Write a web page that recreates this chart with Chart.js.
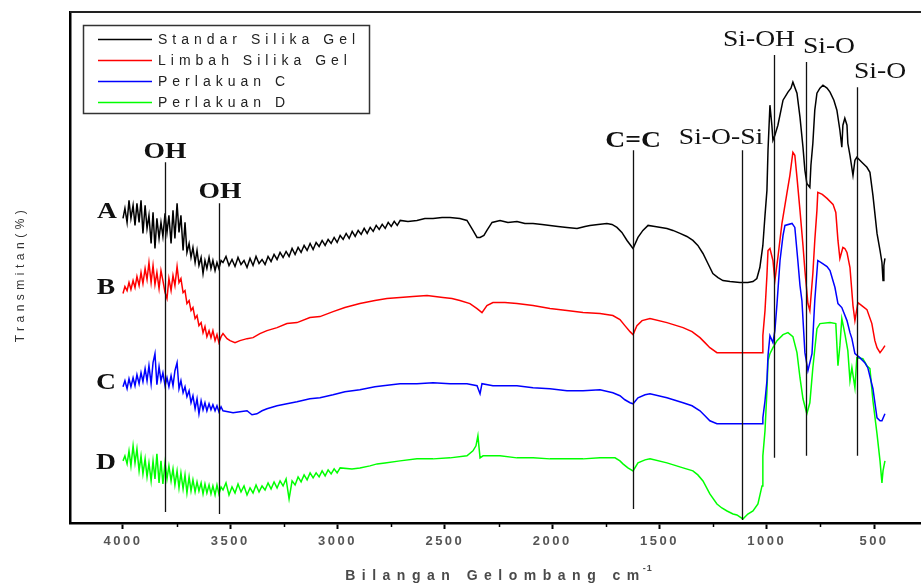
<!DOCTYPE html>
<html>
<head>
<meta charset="utf-8">
<script src="https://cdn.jsdelivr.net/npm/chart.js@4.4.0/dist/chart.umd.min.js"></script>
<style>
  html, body { margin: 0; padding: 0; background: #fff; }
  #wrap { width: 921px; height: 585px; }
</style>
</head>
<body>
<div id="wrap"><canvas id="chart" width="921" height="585"></canvas></div>
<script>
// Spektrum FTIR, kurva digeser vertikal (transmitan relatif)
var seriesNames = ["Standar Silika Gel", "Limbah Silika Gel", "Perlakuan C", "Perlakuan D"];
var seriesColors = ["#000000", "#ff0000", "#0000ff", "#00ff00"];
var xTicks = [4000, 3500, 3000, 2500, 2000, 1500, 1000, 500];
var xMinorTicks = [3750, 3250, 2750, 2250, 1750, 1250, 750];

// bilangan gelombang daerah OH (4000-3540), dipakai keempat kurva
var wnOH = [4000,3991,3981,3972,3963,3953,3944,3935,3925,3916,3907,3897,3888,3879,3869,3860,3851,3842,3832,3823,
  3814,3804,3795,3786,3776,3767,3758,3748,3739,3730,3720,3711,3702,3692,3683,3674,3664,3655,3646,3636,
  3627,3618,3609,3599,3590,3581,3571,3562,3553,3543];

// A - Standar Silika Gel
var wnA = [3534,3520,3506,3492,3478,3464,3450,3436,3422,3408,3394,3380,3366,3352,3338,3324,3310,3296,3282,3268,
  3254,3240,3226,3212,3198,3184,3170,3156,3142,3128,3114,3100,3086,3072,3058,3044,3030,3016,3002,2988,
  2974,2960,2946,2932,2918,2904,2890,2876,2862,2848,2834,2820,2806,2792,2778,2764,2750,2736,2722,2708,
  2672,2630,2593,2555,2513,2476,2430,2397,2369,2350,2336,2318,2304,2280,2243,2206,2164,2127,2089,2047,
  2010,1973,1931,1884,1847,1824,1786,1745,1721,1698,1675,1651,1623,1600,1577,1553,1521,1465,1437,1404,
  1372,1344,1321,1297,1274,1251,1227,1204,1171,1125,1088,1064,1046,1032,1018,1008,999,994,985,976,
  971,962,948,924,901,887,878,859,845,831,822,813,799,794,785,776,766,752,738,719,
  705,687,673,659,650,645,636,626,622,612,598,589,580,566,552,533,519,505,486,472,
  463,458,454,449];
var trAoh = [304,314,300,322,304,317,297,319,300,322,289,317,294,307,279,310,274,304,284,300,
  286,309,290,307,279,312,284,319,290,307,272,300,270,279,265,275,260,272,257,265,
  249,262,254,265,254,262,252,260,254,262];
var trA = [260,266,257,263,256,265,258,262,255,264,257,266,259,263,258,266,261,268,263,270,
  265,271,266,274,268,275,270,277,272,279,273,280,276,282,277,283,279,285,280,287,
  283,289,284,291,286,292,288,294,289,295,291,297,293,298,294,300,296,301,297,302,
  301,302,304,304,305,305,304,302,292,285,285,287,292,300,302,300,301,299,299,298,
  297,296,295,294,296,297,298,299,298,295,290,282,274,285,292,297,296,294,292,289,
  286,282,277,269,259,249,245,242,241,240,240,241,244,255,277,307,332,372,417,397,
  382,387,397,422,430,434,440,429,405,375,352,339,335,357,379,412,429,434,437,434,
  430,422,412,392,375,397,404,397,379,367,347,362,365,362,359,355,350,327,289,272,
  260,242,257,264];

// B - Limbah Silika Gel
var wnB = [3534,3515,3501,3478,3455,3422,3394,3362,3329,3282,3236,3189,3129,3082,3021,2966,2896,2826,2770,2709,
  2649,2583,2546,2509,2467,2430,2383,2350,2327,2304,2276,2220,2164,2089,2010,1931,1856,1777,1717,1684,
  1661,1637,1623,1605,1581,1544,1465,1390,1348,1311,1288,1265,1232,1157,1078,1022,1018,1008,999,994,
  985,971,962,948,929,906,892,878,869,859,845,831,822,808,799,785,776,766,762,741,
  719,691,678,668,659,645,636,626,612,598,589,575,557,533,510,496,486,472,458,449];
var trBoh = [229,236,232,240,233,242,235,246,237,250,239,254,243,260,240,257,238,250,234,252,
  242,230,224,244,232,247,237,256,240,244,230,232,219,222,212,215,204,207,197,200,
  190,196,186,192,185,192,182,188,180,186];
var trB = [189,184,182,180,182,184,185,189,192,195,199,200,205,206,211,215,219,222,224,225,
  226,227,226,225,224,222,219,214,210,217,220,220,219,217,214,212,210,209,207,203,
  197,191,188,197,202,204,200,195,191,185,180,175,170,170,170,170,187,212,247,272,
  274,262,242,265,299,329,347,370,367,345,312,277,252,219,212,249,282,312,330,328,
  324,318,310,282,264,275,274,270,255,217,202,220,217,213,199,182,175,170,174,177];

// C - Perlakuan C
var wnC = [3534,3511,3487,3455,3422,3399,3376,3352,3329,3282,3236,3189,3129,3082,3021,2966,2896,2826,2788,2709,
  2630,2555,2476,2397,2350,2336,2327,2276,2220,2164,2089,2010,1931,1856,1777,1717,1684,1661,1637,1623,
  1600,1567,1544,1465,1390,1348,1311,1288,1265,1232,1157,1078,1022,1018,1008,999,994,985,971,962,
  952,938,924,915,882,869,855,845,836,822,808,799,789,776,762,741,719,705,682,668,
  650,626,612,603,589,566,543,529,505,486,472,463,449];
var trCoh = [136,142,134,144,136,145,137,148,139,150,141,154,142,157,139,160,169,138,156,142,
  150,137,145,136,147,137,152,160,134,142,130,136,126,132,120,127,114,124,109,122,
  113,120,112,119,113,118,112,117,111,116];
var trC = [112,111,110,111,112,108,109,112,114,117,119,121,124,125,128,131,133,136,137,139,
  139,140,139,139,137,129,139,137,137,137,135,134,132,132,133,130,127,123,120,119,
  125,128,129,125,120,117,112,107,102,99,99,99,99,105,122,142,167,187,180,192,
  219,262,287,297,299,295,262,237,222,170,152,160,169,222,262,259,256,252,235,219,
  215,202,190,184,169,165,160,155,134,105,102,102,109];

// D - Perlakuan D
var wnD = [3534,3520,3506,3492,3478,3464,3450,3436,3422,3408,3394,3380,3366,3352,3338,3324,3310,3296,3282,3268,
  3254,3240,3226,3212,3198,3184,3170,3156,3142,3128,3114,3100,3086,3072,3058,3044,3030,3016,3002,2988,
  2933,2896,2849,2816,2779,2709,2630,2555,2476,2397,2369,2355,2346,2336,2322,2243,2164,2089,2010,1931,
  1856,1777,1707,1684,1670,1647,1623,1600,1567,1544,1465,1390,1344,1321,1297,1265,1232,1209,1185,1157,
  1139,1111,1088,1064,1041,1022,1018,1008,999,994,985,971,952,924,901,878,859,845,831,813,
  799,785,766,752,705,678,668,659,650,636,622,612,603,589,580,552,533,519,505,486,
  472,463,458,449];
var trDoh = [62,67,59,72,57,77,60,74,52,67,49,64,46,60,42,62,44,69,40,62,
  39,60,44,57,42,54,38,52,35,50,34,48,30,46,32,43,31,41,32,40,
  29,39,30,38,29,37,28,38,29,36];
var trD = [33,40,28,36,30,39,31,37,28,35,30,38,31,37,33,40,34,41,35,42,
  37,44,24,42,38,46,41,48,43,50,45,50,46,52,47,53,49,54,50,55,
  54,55,57,59,60,62,64,64,65,67,72,77,87,65,67,67,65,65,64,64,
  64,65,65,62,59,55,52,60,63,64,60,55,52,48,42,29,19,15,12,9,
  8,4,9,12,19,37,67,92,132,162,169,175,182,188,190,186,170,145,124,109,
  120,155,194,199,200,199,157,177,204,189,172,142,155,135,165,164,157,154,122,89,
  62,40,52,62];

// garis penanda gugus fungsi (bilangan gelombang, rentang y)
var peakLines = [
  { wn: 3804, y0: 11, y1: 360 },
  { wn: 3553, y0: 9, y1: 319 },
  { wn: 1623, y0: 14, y1: 372 },
  { wn: 1117, y0: 3, y1: 372 },
  { wn: 967, y0: 65, y1: 467 },
  { wn: 817, y0: 67, y1: 460 },
  { wn: 580, y0: 67, y1: 435 }
];
var peakLabels = [
  { text: "A", wn: 4075, y: 311, bold: true },
  { text: "B", wn: 4079, y: 235, bold: true },
  { text: "C", wn: 4079, y: 140, bold: true },
  { text: "D", wn: 4079, y: 60, bold: true },
  { text: "OH", wn: 3804, y: 370, bold: true },
  { text: "OH", wn: 3548, y: 331, bold: true },
  { text: "C=C", wn: 1623, y: 381, bold: true },
  { text: "Si-O-Si", wn: 1213, y: 385, bold: false },
  { text: "Si-OH", wn: 1036, y: 482, bold: false },
  { text: "Si-O", wn: 710, y: 475, bold: false },
  { text: "Si-O", wn: 472, y: 450, bold: false }
];

function toPoints(wn, tr) {
  return wn.map(function (w, i) { return { x: w, y: tr[i] }; });
}

var annotasiPlugin = {
  id: "annotasi",
  beforeDraw: function (chart) {
    chart.ctx.letterSpacing = "2.5px"; // huruf label sumbu direnggangkan
  },
  afterDraw: function (chart) {
    var ctx = chart.ctx;
    var xs = chart.scales.x;
    var ys = chart.scales.y;
    var area = chart.chartArea;
    ctx.save();
    ctx.letterSpacing = "0px";

    // tick minor
    ctx.strokeStyle = "#000";
    ctx.lineWidth = 1.5;
    xMinorTicks.forEach(function (v) {
      var px = Math.round(xs.getPixelForValue(v)) + 0.5;
      ctx.beginPath();
      ctx.moveTo(px, area.bottom);
      ctx.lineTo(px, area.bottom + 4);
      ctx.stroke();
    });

    // bingkai atas
    ctx.strokeStyle = "#222";
    ctx.lineWidth = 2;
    ctx.beginPath();
    ctx.moveTo(area.left, area.top);
    ctx.lineTo(area.right, area.top);
    ctx.stroke();

    // garis penanda
    ctx.strokeStyle = "#111";
    ctx.lineWidth = 1.3;
    peakLines.forEach(function (p) {
      var px = Math.round(xs.getPixelForValue(p.wn)) + 0.5;
      ctx.beginPath();
      ctx.moveTo(px, ys.getPixelForValue(p.y0));
      ctx.lineTo(px, ys.getPixelForValue(p.y1));
      ctx.stroke();
    });

    // label huruf serif
    ctx.fillStyle = "#111";
    ctx.textAlign = "center";
    ctx.textBaseline = "middle";
    peakLabels.forEach(function (l) {
      ctx.save();
      ctx.font = (l.bold ? "bold " : "") + "24px 'Liberation Serif'";
      ctx.translate(xs.getPixelForValue(l.wn), ys.getPixelForValue(l.y));
      ctx.scale(1.15, 1);
      ctx.fillText(l.text, 0, 0);
      ctx.restore();
    });

    // legenda
    ctx.strokeStyle = "#333";
    ctx.lineWidth = 1.5;
    ctx.strokeRect(83.5, 25.5, 286, 88);
    ctx.textAlign = "left";
    ctx.font = "14px 'Liberation Sans'";
    ctx.letterSpacing = "5px";
    var rows = [39, 60, 81, 102];
    chart.data.datasets.forEach(function (ds, i) {
      ctx.strokeStyle = ds.borderColor;
      ctx.lineWidth = 1.5;
      ctx.beginPath();
      ctx.moveTo(98, rows[i] + 0.5);
      ctx.lineTo(152, rows[i] + 0.5);
      ctx.stroke();
      ctx.fillStyle = "#222";
      ctx.fillText(ds.label, 158, rows[i] + 1);
    });

    // judul sumbu x
    ctx.fillStyle = "#4a4a4a";
    ctx.font = "bold 14px 'Liberation Sans'";
    ctx.letterSpacing = "6.5px";
    var title = "Bilangan Gelombang cm";
    var w = ctx.measureText(title).width;
    var cx = (area.left + area.right) / 2;
    ctx.fillText(title, cx - w / 2, 576);
    ctx.font = "bold 9px 'Liberation Sans'";
    ctx.letterSpacing = "1px";
    ctx.fillText("-1", cx + w / 2 - 3, 569);

    // judul sumbu y
    ctx.save();
    ctx.translate(21, 274);
    ctx.rotate(-Math.PI / 2);
    ctx.textAlign = "center";
    ctx.font = "12px 'Liberation Sans'";
    ctx.letterSpacing = "4.5px";
    ctx.fillStyle = "#333";
    ctx.fillText("Transmitan(%)", 0, 0);
    ctx.restore();

    ctx.restore();
  }
};

Chart.defaults.font.family = "'Liberation Sans', Arial, sans-serif";

var ctx = document.getElementById("chart").getContext("2d");
var chart = new Chart(ctx, {
  type: "line",
  data: {
    datasets: [
      { label: seriesNames[0], data: toPoints(wnOH.concat(wnA), trAoh.concat(trA)), borderColor: seriesColors[0] },
      { label: seriesNames[1], data: toPoints(wnOH.concat(wnB), trBoh.concat(trB)), borderColor: seriesColors[1] },
      { label: seriesNames[2], data: toPoints(wnOH.concat(wnC), trCoh.concat(trC)), borderColor: seriesColors[2] },
      { label: seriesNames[3], data: toPoints(wnOH.concat(wnD), trDoh.concat(trD)), borderColor: seriesColors[3] }
    ]
  },
  options: {
    responsive: false,
    animation: false,
    devicePixelRatio: 1,
    layout: { autoPadding: false, padding: { top: 12, left: 0, right: 0, bottom: 0 } },
    elements: {
      point: { radius: 0 },
      line: { borderWidth: 1.5, tension: 0, fill: false }
    },
    plugins: {
      legend: { display: false },
      tooltip: { enabled: false }
    },
    scales: {
      x: {
        type: "linear",
        reverse: true,
        min: 281,
        max: 4247,
        afterBuildTicks: function (scale) {
          scale.ticks = xTicks.map(function (v) { return { value: v }; });
        },
        afterFit: function (scale) { scale.height = 62; },
        ticks: {
          autoSkip: false,
          maxRotation: 0,
          padding: 5,
          color: "#555",
          font: { size: 13, weight: "bold" },
          callback: function (v) { return v; }
        },
        grid: { display: true, drawOnChartArea: false, drawTicks: true, tickLength: 6, tickColor: "#000", tickWidth: 2 },
        border: { display: true, color: "#000", width: 2.5 }
      },
      y: {
        type: "linear",
        min: 0,
        max: 510,
        afterFit: function (scale) { scale.width = 70; },
        ticks: { display: false },
        grid: { display: false, drawTicks: false },
        border: { display: true, color: "#000", width: 2.5 }
      }
    }
  },
  plugins: [annotasiPlugin]
});
</script>
</body>
</html>
